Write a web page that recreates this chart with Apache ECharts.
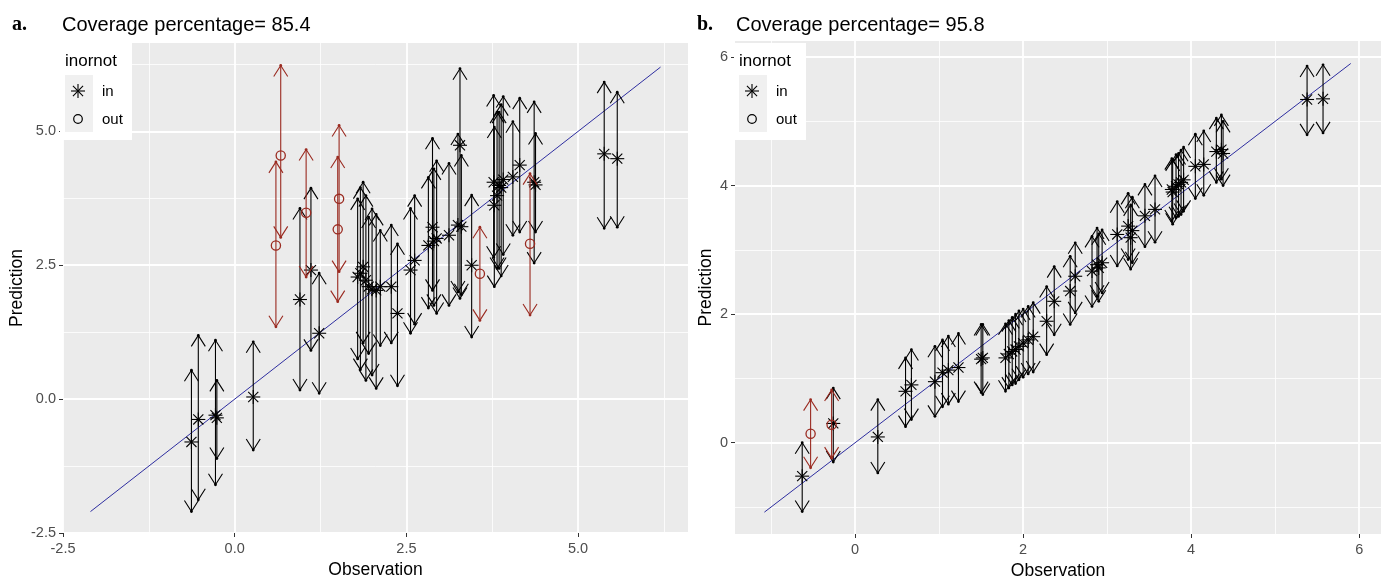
<!DOCTYPE html>
<html>
<head>
<meta charset="utf-8">
<script src="https://cdn.jsdelivr.net/npm/echarts@6/dist/echarts.min.js"></script>
<style>
  html, body { margin: 0; background: #fff; }
  #chart { width: 1387px; height: 584px; }
</style>
</head>
<body>
<div id="chart"></div>
<script>
  // observed values (same for both panels)
  const observation = [-0.63, -0.53, -0.28, -0.26, 0.27, 0.60, 0.67, 0.95, 1.04, 1.11, 1.23, 1.50, 1.52, 1.79, 1.83, 1.87,
    1.91, 1.95, 2.00, 2.06, 2.12, 2.28, 2.37, 2.56, 2.62, 2.82, 2.88, 2.90, 2.94, 3.12, 3.25, 3.28,
    3.30, 3.45, 3.57, 3.77, 3.78, 3.82, 3.85, 3.88, 3.91, 4.05, 4.15, 4.30, 4.36, 4.38, 5.38, 5.57]

  // panel a: prediction + interval
  const predA = [-0.80, -0.38, -0.30, -0.35, 0.04, 2.87, 4.55, 1.86, 3.48, 2.41, 1.23, 3.17, 3.74, 2.28, 2.35, 2.47,
    2.22, 2.10, 2.05, 2.03, 2.10, 2.10, 1.60, 2.41, 2.59, 2.87, 3.21, 2.95, 3.00, 3.06, 3.25, 4.74,
    3.22, 2.50, 2.34, 4.05, 3.62, 3.80, 3.99, 3.95, 4.10, 4.15, 4.37, 2.90, 4.05, 4.00, 4.58, 4.49]
  const lowerA = [-2.10, -1.88, -1.60, -1.11, -0.95, 1.35, 3.02, 0.17, 2.28, 0.91, 0.11, 1.82, 2.38, 0.75, 0.55, 1.05,
    0.35, 0.85, 0.45, 0.20, 1.00, 1.05, 0.25, 1.23, 1.40, 1.70, 2.03, 1.75, 1.60, 1.75, 2.00, 1.88,
    1.95, 1.16, 1.47, 2.65, 2.10, 2.44, 2.44, 2.30, 2.70, 3.06, 3.12, 1.57, 2.54, 3.12, 3.19, 3.21]
  const upperA = [0.54, 1.19, 1.10, 0.35, 1.07, 4.43, 6.23, 3.56, 4.66, 3.94, 2.35, 4.52, 5.11, 3.74, 3.95, 4.05,
    3.80, 3.40, 3.55, 3.45, 3.15, 3.25, 2.90, 3.56, 3.80, 4.14, 4.87, 4.30, 4.45, 4.40, 4.95, 6.17,
    4.55, 3.81, 3.21, 5.67, 5.08, 5.36, 5.36, 5.50, 5.65, 5.18, 5.62, 4.21, 5.55, 4.96, 5.92, 5.73]

  // panel b: prediction + interval
  const predB = [-0.52, 0.14, 0.28, 0.30, 0.09, 0.80, 0.90, 0.95, 1.09, 1.13, 1.17, 1.30, 1.32, 1.32, 1.38, 1.42,
    1.45, 1.50, 1.55, 1.60, 1.65, 1.89, 2.20, 2.36, 2.59, 2.67, 2.77, 2.72, 2.80, 3.24, 3.37, 3.19,
    3.30, 3.53, 3.63, 3.94, 3.90, 3.99, 4.02, 4.05, 4.09, 4.30, 4.33, 4.53, 4.56, 4.50, 5.34, 5.35]
  const lowerB = [-1.07, -0.39, -0.24, -0.30, -0.47, 0.25, 0.36, 0.41, 0.56, 0.60, 0.64, 0.78, 0.75, 0.80, 0.85, 0.90,
    0.92, 0.98, 1.02, 1.07, 1.10, 1.37, 1.68, 1.84, 2.02, 2.12, 2.28, 2.20, 2.33, 2.75, 2.85, 2.70,
    2.80, 3.05, 3.12, 3.45, 3.40, 3.50, 3.52, 3.55, 3.60, 3.80, 3.85, 4.05, 4.10, 4.00, 4.79, 4.82]
  const upperB = [0.00, 0.67, 0.82, 0.85, 0.67, 1.32, 1.45, 1.50, 1.60, 1.66, 1.70, 1.84, 1.84, 1.85, 1.90, 1.95,
    2.00, 2.05, 2.08, 2.12, 2.18, 2.43, 2.74, 2.90, 3.11, 3.21, 3.34, 3.25, 3.31, 3.75, 3.88, 3.70,
    3.82, 4.02, 4.15, 4.42, 4.40, 4.48, 4.50, 4.55, 4.60, 4.80, 4.85, 5.05, 5.10, 5.00, 5.86, 5.88]

  const ticksA = [-2.5, 0, 2.5, 5]
  const minorTicksA = [-1.25, 1.25, 3.75, 6.25]
  const ticksB = [0, 2, 4, 6]
  const minorTicksB = [-1, 1, 3, 5]
  const identityA = [-2.1, 6.2] // y = x line ends
  const identityB = [-1.08, 5.9]
  const coverage = ['85.4', '95.8']

  const FONT = '"Liberation Sans", Arial, sans-serif'
  const RED = '#9A2A20'
  const BLUE = '#2E2EA0'
  const AW = 7, AL = 11 // arrow head half width / length

  // 1 when the observation falls outside the interval
  function buildRows(pred, lo, hi) {
    const rows = observation.map((x, i) => [x, pred[i], lo[i], hi[i], (x < lo[i] || x > hi[i]) ? 1 : 0])
    return rows.filter(r => !r[4]).concat(rows.filter(r => r[4]))
  }

  function star(cx, cy, r, col, z) {
    const d = r * 0.72
    const st = { stroke: col, lineWidth: 1.1 }
    const segs = [
      [cx - r, cy, cx + r, cy],
      [cx, cy - r, cx, cy + r],
      [cx - d, cy - d, cx + d, cy + d],
      [cx - d, cy + d, cx + d, cy - d],
    ]
    return segs.map(s => {
      const el = { type: 'line', shape: { x1: s[0], y1: s[1], x2: s[2], y2: s[3] }, style: st }
      if (z != null) el.z = z
      return el
    })
  }

  function drawInterval(params, api) {
    const x = api.value(0)
    const out = api.value(4) === 1
    const c = api.coord([x, api.value(1)])
    const b = api.coord([x, api.value(2)])
    const t = api.coord([x, api.value(3)])
    const col = out ? RED : '#000000'
    const st = { stroke: col, lineWidth: 1.1, fill: 'none' }
    const kids = [
      { type: 'line', shape: { x1: t[0], y1: t[1], x2: b[0], y2: b[1] }, style: st },
      { type: 'polyline', shape: { points: [[t[0] - AW, t[1] + AL], [t[0], t[1]], [t[0] + AW, t[1] + AL]] }, style: st },
      { type: 'polyline', shape: { points: [[b[0] - AW, b[1] - AL], [b[0], b[1]], [b[0] + AW, b[1] - AL]] }, style: st },
      { type: 'circle', shape: { cx: t[0], cy: t[1], r: 1.4 }, style: { fill: col } },
      { type: 'circle', shape: { cx: b[0], cy: b[1], r: 1.4 }, style: { fill: col } },
    ]
    if (out) {
      kids.push({ type: 'circle', shape: { cx: c[0], cy: c[1], r: 4.6 }, style: { stroke: col, lineWidth: 1.3, fill: 'none' } })
    } else {
      kids.push(...star(c[0], c[1], 7, '#000000'))
    }
    return { type: 'group', children: kids }
  }

  function axes(grid, dim, min, max, ticks, minor, fmt, name, nameGap) {
    const isX = dim === 'x'
    const major = {
      gridIndex: grid, type: 'value', min, max,
      position: isX ? 'bottom' : 'left',
      axisLine: { show: false, onZero: false },
      axisTick: { show: true, length: 4, customValues: ticks, lineStyle: { color: '#333333' } },
      axisLabel: { customValues: ticks, formatter: fmt, color: '#4D4D4D', fontSize: 14.5, fontFamily: FONT, margin: isX ? 8 : 7 },
      splitLine: { show: true, lineStyle: { color: '#FFFFFF', width: 1.8 } },
      name, nameLocation: 'middle', nameGap,
      nameTextStyle: { color: '#000', fontSize: 17.5, fontFamily: FONT },
    }
    const minorAx = {
      gridIndex: grid, type: 'value', min, max,
      position: isX ? 'top' : 'right',
      axisLine: { show: false, onZero: false },
      axisTick: { show: false, customValues: minor },
      axisLabel: { show: false, customValues: minor },
      splitLine: { show: true, lineStyle: { color: '#FFFFFF', width: 0.8 } },
    }
    return [major, minorAx]
  }

  const fmtA = v => v.toFixed(1)
  const fmtB = v => String(Math.round(v))

  const xAxis = [
    ...axes(0, 'x', -2.5, 6.6, ticksA, minorTicksA, fmtA, 'Observation', 25),
    ...axes(1, 'x', -1.43, 6.26, ticksB, minorTicksB, fmtB, 'Observation', 25),
  ]
  const yAxis = [
    ...axes(0, 'y', -2.5, 6.65, ticksA, minorTicksA, fmtA, 'Prediction', 37),
    ...axes(1, 'y', -1.42, 6.25, ticksB, minorTicksB, fmtB, 'Prediction', 20),
  ]

  function legend(keyX) {
    const st = { fill: '#000', fontSize: 15, fontFamily: FONT, verticalAlign: 'middle' }
    return [
      { type: 'rect', shape: { x: keyX - 5, y: 43, width: 72, height: 97 }, style: { fill: '#FFFFFF' }, z: 10 },
      { type: 'text', x: keyX, y: 61, style: { text: 'inornot', fill: '#000', fontSize: 17, fontFamily: FONT, verticalAlign: 'middle' }, z: 11 },
      { type: 'rect', shape: { x: keyX, y: 75, width: 28, height: 57 }, style: { fill: '#F0F0F0' }, z: 11 },
      ...star(keyX + 13, 91, 7, '#000', 12),
      { type: 'circle', shape: { cx: keyX + 13, cy: 119, r: 4.3 }, style: { stroke: '#000', lineWidth: 1.2, fill: 'none' }, z: 12 },
      { type: 'text', x: keyX + 37, y: 92, style: Object.assign({ text: 'in' }, st), z: 12 },
      { type: 'text', x: keyX + 37, y: 120, style: Object.assign({ text: 'out' }, st), z: 12 },
    ]
  }

  function heading(tagX, textX, tag, text) {
    return [
      { type: 'text', x: tagX, y: 25, style: { text: tag, fill: '#000', fontSize: 20, fontWeight: 'bold', fontFamily: '"Liberation Serif", serif', verticalAlign: 'middle' } },
      { type: 'text', x: textX, y: 25, style: { text: text, fill: '#000', fontSize: 20, fontFamily: FONT, verticalAlign: 'middle' } },
    ]
  }

  const option = {
    animation: false,
    backgroundColor: '#FFFFFF',
    grid: [
      { left: 63, top: 43, width: 625, height: 490, show: true, backgroundColor: '#EBEBEB', borderWidth: 0, outerBoundsMode: 'none' },
      { left: 735, top: 41, width: 646, height: 493, show: true, backgroundColor: '#EBEBEB', borderWidth: 0, outerBoundsMode: 'none' },
    ],
    xAxis,
    yAxis,
    graphic: [
      ...heading(12, 62, 'a.', 'Coverage percentage= ' + coverage[0]),
      ...heading(697, 736, 'b.', 'Coverage percentage= ' + coverage[1]),
      ...legend(65),
      ...legend(739),
    ],
    series: [
      {
        type: 'line', xAxisIndex: 0, yAxisIndex: 0, silent: true, symbol: 'none',
        data: identityA.map(v => [v, v]), lineStyle: { color: BLUE, width: 1 }, z: 2,
      },
      {
        type: 'custom', xAxisIndex: 0, yAxisIndex: 0, renderItem: drawInterval, clip: true,
        data: buildRows(predA, lowerA, upperA), encode: { x: 0, y: 1 }, z: 3,
      },
      {
        type: 'line', xAxisIndex: 2, yAxisIndex: 2, silent: true, symbol: 'none',
        data: identityB.map(v => [v, v]), lineStyle: { color: BLUE, width: 1 }, z: 2,
      },
      {
        type: 'custom', xAxisIndex: 2, yAxisIndex: 2, renderItem: drawInterval, clip: true,
        data: buildRows(predB, lowerB, upperB), encode: { x: 0, y: 1 }, z: 3,
      },
    ],
  }

  const chart = echarts.init(document.getElementById('chart'))
  chart.setOption(option)
</script>
</body>
</html>
